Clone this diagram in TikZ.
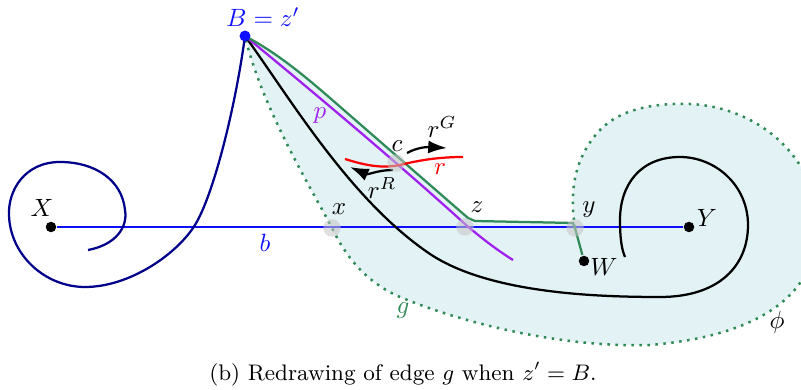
\documentclass[tikz,border=0pt]{standalone}
\usetikzlibrary{arrows.meta}
\definecolor{gcol}{RGB}{46,139,87}
\definecolor{pcol}{RGB}{160,32,240}
\definecolor{ncol}{RGB}{0,0,139}
\definecolor{bcol}{RGB}{15,15,255}
\definecolor{fcol}{RGB}{227,242,245}
\begin{document}
\begin{tikzpicture}[x=0.4pt,y=-0.4pt,line width=0.9pt,
  dotnode/.style={circle,fill=black,inner sep=0pt,minimum size=4.2pt},
  hilite/.style={circle,fill=gray!45,opacity=0.55,inner sep=0pt,minimum size=7pt},
  lbl/.style={inner sep=0pt},
  arr/.style={-{Latex[length=7.5pt,width=5.2pt]}},
  gdots/.style={gcol,line width=1pt,dash pattern=on 1pt off 2.2pt}]
\useasboundingbox (0,0) rectangle (801,390);
\coordinate (Bc) at (245,36);
\coordinate (gk) at (468,218);
\coordinate (gy) at (573,223);
\coordinate (ym) at (575,228);
\coordinate (g1) at (330,98);
% shaded face
\begin{scope}
\clip (0,0) rectangle (801,390);
\fill[fcol] (ym) .. controls (570,195) and (572,160) .. (600,130)
  .. controls (622,107) and (660,103) .. (690,104)
  .. controls (740,106) and (790,135) .. (810,185)
  .. controls (825,230) and (815,270) .. (790,295)
  .. controls (760,325) and (710,340) .. (650,345)
  .. controls (560,348) and (460,322) .. (400,297)
  .. controls (365,282) and (345,255) .. (332,228)
  .. controls (318,200) and (262,110) .. (Bc)
  .. controls (275,52) and (300,72) .. (g1) -- (gk) -- (475,221) -- (gy) -- cycle;
\draw[gdots] (ym) .. controls (570,195) and (572,160) .. (600,130)
  .. controls (622,107) and (660,103) .. (690,104)
  .. controls (740,106) and (790,135) .. (810,185)
  .. controls (825,230) and (815,270) .. (790,295)
  .. controls (760,325) and (710,340) .. (650,345)
  .. controls (560,348) and (460,322) .. (400,297)
  .. controls (365,282) and (345,255) .. (332,228)
  .. controls (318,200) and (262,110) .. (Bc);
\end{scope}
% nodes
\node[dotnode] (X) at (51,227) {};
\node[dotnode] (Y) at (689,227) {};
\node[dotnode] (W) at (584,261) {};
% b
\draw[bcol] (X) -- (Y);
% navy curve
\draw[ncol] (88,250) .. controls (115,245) and (128,228) .. (125,210)
  .. controls (122,180) and (95,162) .. (60,162)
  .. controls (25,162) and (8,190) .. (9,215)
  .. controls (10,255) and (45,287) .. (85,287)
  .. controls (130,287) and (177,254) .. (195,225)
  .. controls (213,196) and (235,110) .. (Bc);
% black curve
\draw[black] (Bc) .. controls (290,98) and (350,200) .. (430,254)
  .. controls (490,294) and (600,297) .. (660,297)
  .. controls (720,297) and (748,265) .. (748,225)
  .. controls (748,185) and (715,157) .. (680,157)
  .. controls (640,157) and (620,185) .. (620,220)
  .. controls (620,240) and (622,250) .. (625,257);
% purple p
\draw[pcol] (Bc) .. controls (350,122) and (430,192) .. (466,225)
  .. controls (485,241) and (500,252) .. (513,260);
% green g
\draw[gcol] (Bc) .. controls (275,52) and (300,72) .. (g1) -- (gk) -- (475,221) -- (gy) -- (ym) -- (W);
% red r
\draw[red] (345,159) .. controls (370,167) and (385,168) .. (400,165)
  .. controls (420,160) and (440,157) .. (463,157);
% arrows
\coordinate (rg0) at (407,153);
\coordinate (rg1) at (447,148);
\draw[arr] (rg0) .. controls (418,147) and (428,147) .. (rg1);
\coordinate (rr0) at (393,170);
\coordinate (rr1) at (350,167);
\draw[arr] (rr0) .. controls (378,170) and (368,175) .. (rr1);
% highlighted points
\node[hilite] (mx) at (332,228) {};
\node[hilite] (mz) at (465,227) {};
\node[hilite] (my) at (575,228) {};
\node[hilite] (mc) at (396,163) {};
\node[circle,fill=bcol,inner sep=0pt,minimum size=4.4pt] (B) at (Bc) {};
% labels
\node[lbl,text=bcol] at (263,17) {$B=z'$};
\node[lbl] at (42,208) {$X$};
\node[lbl] at (707,218) {$Y$};
\node[lbl] at (604,267) {$W$};
\node[lbl] at (339,209) {$x$};
\node[lbl] at (477,207) {$z$};
\node[lbl] at (589,210) {$y$};
\node[lbl] at (397,146) {$c$};
\node[lbl,text=pcol] at (320,116) {$p$};
\node[lbl,text=bcol] at (265,243) {$b$};
\node[lbl,text=red] at (440,169) {$r$};
\node[lbl,text=gcol] at (403,311) {$g$};
\node[lbl] at (777,322) {$\phi$};
\node[lbl] at (442,127) {$r^G$};
\node[lbl] at (382,188) {$r^R$};
\node[lbl] at (403,374) {\small (b) Redrawing of edge $g$ when $z'=B$.};
\end{tikzpicture}
\end{document}
